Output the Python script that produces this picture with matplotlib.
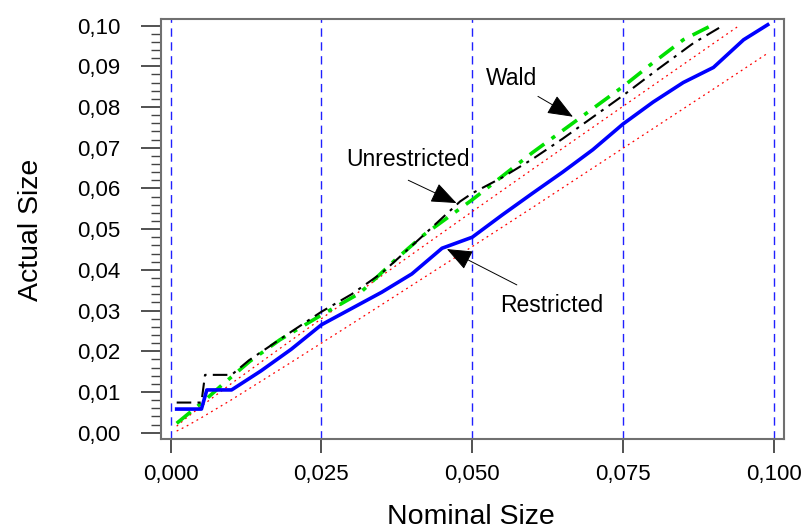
# actual vs nominal size of the three tests
import matplotlib
matplotlib.use('Agg')
import matplotlib.pyplot as plt
from matplotlib.ticker import MultipleLocator, FuncFormatter

plt.rcParams['font.family'] = ['Liberation Sans', 'DejaVu Sans']

# restricted (solid blue)
restr_x = [0.001, 0.0051, 0.006, 0.0101, 0.015, 0.020, 0.025, 0.030, 0.035, 0.040, 0.045,
           0.050, 0.055, 0.060, 0.065, 0.070, 0.075, 0.080, 0.085, 0.090, 0.095, 0.099]
restr_y = [0.0058, 0.0058, 0.0105, 0.0105, 0.0152, 0.0205, 0.0265, 0.0305, 0.0345, 0.0390, 0.0453,
           0.0480, 0.0535, 0.0588, 0.0640, 0.0695, 0.0758, 0.0812, 0.0860, 0.0897, 0.0965, 0.1002]

# unrestricted (black dash-dot)
unres_x = [0.001, 0.0051, 0.0057, 0.0101, 0.013, 0.020, 0.025, 0.030, 0.035, 0.038, 0.042,
           0.048, 0.050, 0.055, 0.060, 0.065, 0.070, 0.075, 0.081, 0.0867, 0.0916]
unres_y = [0.0074, 0.0074, 0.0142, 0.0142, 0.0178, 0.0248, 0.0297, 0.0340, 0.0392, 0.0432, 0.0486,
           0.0568, 0.0588, 0.0627, 0.0672, 0.0722, 0.0775, 0.0828, 0.0895, 0.0957, 0.1000]

# wald (green dash-dot)
wald_x = [0.001, 0.0057, 0.0085, 0.0131, 0.0181, 0.025, 0.0314, 0.0375, 0.042, 0.050,
          0.060, 0.065, 0.070, 0.075, 0.0795, 0.085, 0.0894]
wald_y = [0.0023, 0.0080, 0.0117, 0.0175, 0.0228, 0.0289, 0.0343, 0.0428, 0.0486, 0.0572,
          0.0688, 0.0742, 0.0796, 0.0850, 0.0903, 0.0965, 0.0998]

# 95% band around the nominal size (red dotted)
band_x = [0.001, 0.0025, 0.005, 0.0075, 0.010, 0.020, 0.030, 0.040, 0.050, 0.060,
          0.070, 0.080, 0.090, 0.094, 0.099]
band_lo = [0.0004, 0.0015, 0.0036, 0.0058, 0.0080, 0.0173, 0.0267, 0.0362, 0.0457, 0.0553,
           0.0650, 0.0747, 0.0844, 0.0883, 0.0932]
band_hi = [0.0016, 0.0035, 0.0064, 0.0092, 0.0120, 0.0227, 0.0333, 0.0438, 0.0543, 0.0647,
           0.0750, 0.0853, 0.0956, 0.0997, None]

grid_x = [0.0, 0.025, 0.05, 0.075, 0.1]

fig = plt.figure(figsize=(8.06, 5.32), dpi=100)
ax = fig.add_axes([161 / 806, 1 - 439 / 532, 623 / 806, 420 / 532])

for gx in grid_x:
    ax.axvline(gx, color='#2020ff', lw=1.0, dashes=(6, 4), zorder=1)

hi_x = [x for x, y in zip(band_x, band_hi) if y is not None]
hi_y = [y for y in band_hi if y is not None]
ax.plot(band_x, band_lo, color='red', lw=0.9, dashes=(1.5, 3), zorder=2)
ax.plot(hi_x, hi_y, color='red', lw=0.9, dashes=(1.5, 3), zorder=2)

ax.plot(wald_x, wald_y, color='#00e000', lw=2.6, dashes=(5, 2.5, 1.2, 2.5), zorder=3)
ax.plot(unres_x, unres_y, color='black', lw=1.5, dashes=(7, 3, 1.5, 3), zorder=4)
ax.plot(restr_x, restr_y, color='#0000ff', lw=2.6, zorder=5)

ax.set_xlim(-0.0016, 0.1017)
ax.set_ylim(-0.00155, 0.1016)

ax.xaxis.set_major_locator(MultipleLocator(0.025))
ax.yaxis.set_major_locator(MultipleLocator(0.01))
ax.yaxis.set_minor_locator(MultipleLocator(0.002))
ax.xaxis.set_major_formatter(FuncFormatter(lambda v, p: f"{v:.3f}".replace('.', ',')))
ax.yaxis.set_major_formatter(FuncFormatter(lambda v, p: f"{v:.2f}".replace('.', ',')))

ax.tick_params(axis='x', which='major', length=10, width=1.2, pad=8, labelsize=16, color='#333333')
ax.tick_params(axis='y', which='major', length=14.5, width=1.2, pad=15, labelsize=16, color='#333333')
ax.tick_params(axis='y', which='minor', length=7, width=1.0, color='#444444')

for s in ax.spines.values():
    s.set_color('#707070')
    s.set_linewidth(1.5)

ax.set_xlabel('Nominal Size', fontsize=20.5, va='center')
ax.set_ylabel('Actual Size', fontsize=20.5, va='center')
ax.xaxis.set_label_coords(0.4976, -0.186)
ax.yaxis.set_label_coords(-0.209, 0.4976)

arrow = dict(arrowstyle='-|>,head_length=0.8,head_width=0.32', color='black', lw=0.7,
             mutation_scale=20, shrinkA=0, shrinkB=0)

ax.text(0.0566, 0.0869, 'Wald', fontsize=16.5, ha='center', va='center')
ax.annotate('', xy=(0.0667, 0.0776), xytext=(0.0609, 0.0826), arrowprops=arrow)

ax.text(0.0394, 0.0670, 'Unrestricted', fontsize=16.5, ha='center', va='center')
ax.annotate('', xy=(0.0474, 0.0564), xytext=(0.0394, 0.0620), arrowprops=arrow)

ax.text(0.0631, 0.0313, 'Restricted', fontsize=16.5, ha='center', va='center')
ax.annotate('', xy=(0.0458, 0.0451), xytext=(0.0574, 0.0363), arrowprops=arrow)

fig.savefig('out.png', dpi=100)
